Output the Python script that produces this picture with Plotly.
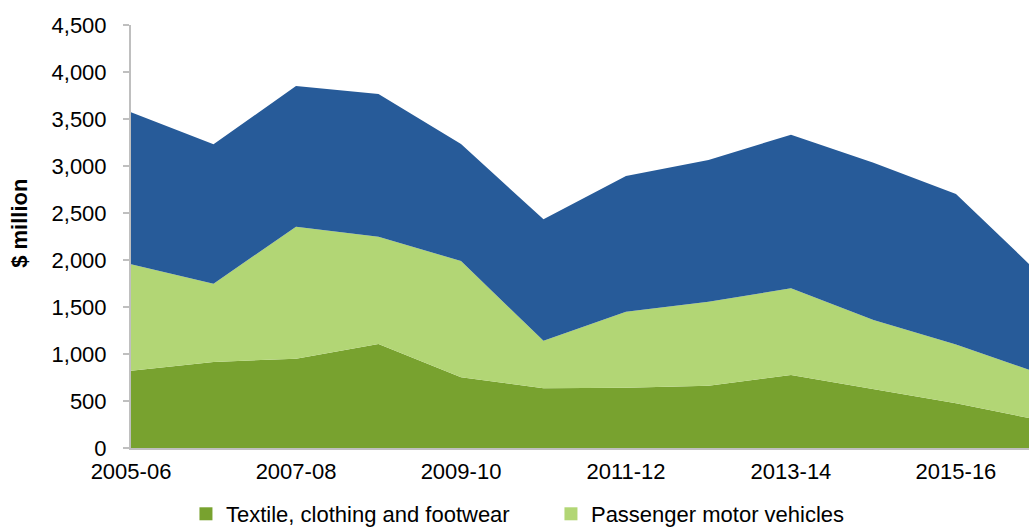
import plotly.graph_objects as go

years = ["2005-06", "2006-07", "2007-08", "2008-09", "2009-10", "2010-11",
         "2011-12", "2012-13", "2013-14", "2014-15", "2015-16", "2016-17"]
textile = [822, 915, 950, 1106, 752, 635, 642, 663, 777, 624, 475, 298]
passenger = [1132, 833, 1404, 1142, 1237, 506, 808, 893, 922, 738, 625, 500]
other = [1617, 1483, 1497, 1518, 1245, 1292, 1444, 1508, 1634, 1673, 1602, 1064]

series_names = ["Textile, clothing and footwear", "Passenger motor vehicles", "Other manufacturing"]
colors = ["#78A22F", "#B2D675", "#275B99"]
xtick_labels = ["2005-06", "2007-08", "2009-10", "2011-12", "2013-14", "2015-16"]
ytick_vals = [0, 500, 1000, 1500, 2000, 2500, 3000, 3500, 4000, 4500]

FONT = "Liberation Sans, Arial, sans-serif"

fig = go.Figure()
for name, vals, col in zip(series_names, [textile, passenger, other], colors):
    fig.add_trace(go.Scatter(
        x=years, y=vals, name=name, stackgroup="one", mode="lines",
        line=dict(width=0, color=col), fillcolor=col, showlegend=False,
        hoverinfo="x+y+name"))

# legend entries (square swatches)
for name, col in zip(series_names[:2], colors[:2]):
    fig.add_trace(go.Scatter(
        x=[None], y=[None], mode="markers", name=name,
        marker=dict(symbol="square", size=13, color=col), showlegend=True))

fig.update_layout(
    width=1029, height=528,
    margin=dict(l=131, r=0, t=25, b=80, autoexpand=False),
    paper_bgcolor="white", plot_bgcolor="white",
    font=dict(family=FONT, size=22, color="#000000"),
    showlegend=True,
    legend=dict(orientation="h", x=0.0612, xanchor="left", y=-0.156, yanchor="middle",
                font=dict(size=22), bgcolor="rgba(0,0,0,0)", traceorder="normal",
                entrywidth=320, entrywidthmode="pixels"),
    annotations=[dict(text="<b>$ million</b>", textangle=-90, xref="paper", yref="paper",
                      x=-0.1236, y=0.53, xanchor="center", yanchor="middle",
                      showarrow=False, font=dict(size=22, family=FONT, color="#000000"))],
)
fig.update_xaxes(
    type="category", categoryorder="array", categoryarray=years,
    range=[0, 10.885],
    tickmode="array", tickvals=xtick_labels, ticktext=xtick_labels,
    showgrid=False, showline=True, linecolor="#BFBFBF", linewidth=2,
    ticks="", zeroline=False, tickfont=dict(size=22), automargin=False,
    ticklabelstandoff=3,
)
fig.update_yaxes(
    range=[0, 4500], tickmode="array", tickvals=ytick_vals,
    tickformat=",d", showgrid=False, showline=True, linecolor="#BFBFBF", linewidth=2,
    ticks="outside", ticklen=6, tickcolor="#BFBFBF", tickwidth=2,
    ticklabelstandoff=12, zeroline=False, tickfont=dict(size=22),
    automargin=False,
)

fig.write_html("out.html", config={"displayModeBar": False},
               post_script="document.body.style.margin='0';document.body.style.overflow='hidden';")
